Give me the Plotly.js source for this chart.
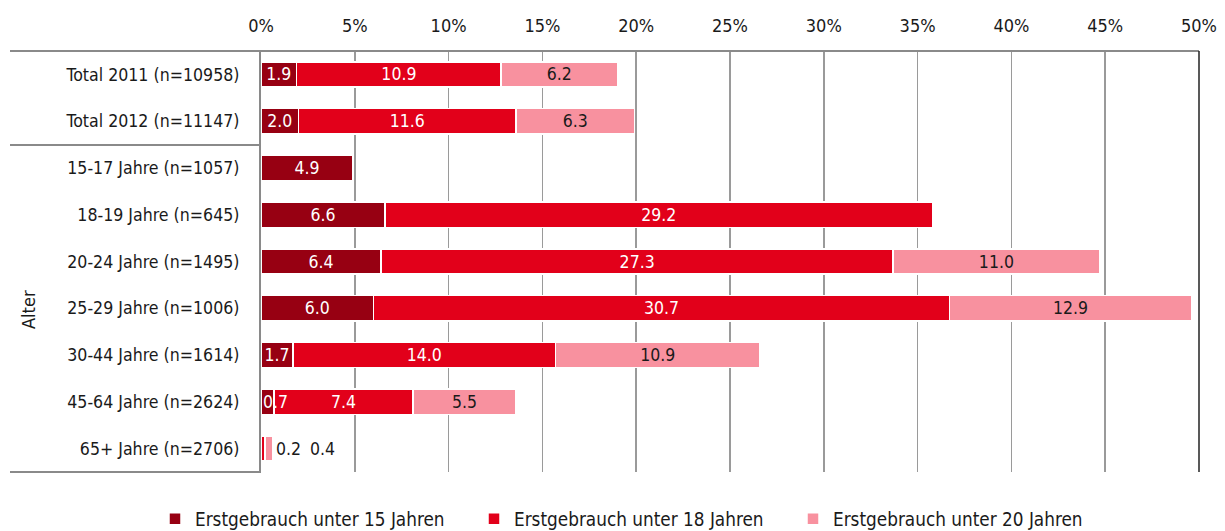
<!DOCTYPE html>
<html>
<head>
<meta charset="utf-8">
<script src="https://cdn.plot.ly/plotly-3.0.1.min.js"></script>
<style>html,body{margin:0;padding:0;background:#fff;}#chart{width:1225px;height:531px;}</style>
</head>
<body>
<div id="chart"></div>
<script>
const categories = ["Total 2011 (n=10958)", "Total 2012 (n=11147)", "15-17 Jahre (n=1057)", "18-19 Jahre (n=645)", "20-24 Jahre (n=1495)", "25-29 Jahre (n=1006)", "30-44 Jahre (n=1614)", "45-64 Jahre (n=2624)", "65+ Jahre (n=2706)"];
const seriesNames = ["Erstgebrauch unter 15 Jahren", "Erstgebrauch unter 18 Jahren", "Erstgebrauch unter 20 Jahren"];
const under15 = [1.9, 2.0, 4.9, 6.6, 6.4, 6.0, 1.7, 0.7, 0.0];
const under18 = [10.9, 11.6, 0, 29.2, 27.3, 30.7, 14.0, 7.4, 0.2];
const under20 = [6.2, 6.3, 0, 0, 11.0, 12.9, 10.9, 5.5, 0.4];
const xTicks = [0, 5, 10, 15, 20, 25, 30, 35, 40, 45, 50];
const groupLabel = "Alter";

const colors = ["#970012", "#E2001A", "#F8919F"];
const textColors = ["#ffffff", "#ffffff", "#1a1a1a"];
const FONT = '"Liberation Sans Narrow", "Arial Narrow", "DejaVu Sans Condensed", sans-serif';
const series = [under15, under18, under20];
const outsideRow = categories.length - 1; // last row labels drawn outside
const SMALL = 1.0; // segments narrower than this get an overlay label

const traces = series.map((vals, i) => ({
  type: 'bar',
  orientation: 'h',
  name: seriesNames[i],
  y: categories,
  x: vals,
  text: vals.map((v, j) => (v >= SMALL && j !== outsideRow) ? v.toFixed(1) : ''),
  textposition: 'inside',
  insidetextanchor: 'middle',
  constraintext: 'none',
  textangle: 0,
  textfont: {family: FONT, size: 17.5, color: textColors[i]},
  marker: {color: colors[i], line: {color: '#ffffff', width: 1.5}},
  width: 0.54,
  hoverinfo: 'skip'
}));

const L = 261, R = 1199, T = 51, B = 472;
const pw = R - L, ph = B - T;
const px = v => (v - L) / pw;
const py = v => 1 - (v - T) / ph;

const annotations = [];
// small in-bar labels that overflow their segment
categories.forEach((c, j) => {
  if (j === outsideRow) return;
  let start = 0;
  series.forEach((vals, i) => {
    const v = vals[j];
    if (v > 0 && v < SMALL) {
      annotations.push({
        x: start, y: c, xref: 'x', yref: 'y', text: v.toFixed(1),
        showarrow: false, xanchor: 'left', xshift: 0,
        font: {family: FONT, size: 17.5, color: textColors[i]}
      });
    }
    start += v;
  });
});
// outside labels for the last row
let cum = under15[outsideRow] + under18[outsideRow] + under20[outsideRow];
[under18[outsideRow], under20[outsideRow]].forEach((v, k) => {
  annotations.push({
    x: cum, y: categories[outsideRow], xref: 'x', yref: 'y',
    text: v.toFixed(1), showarrow: false, xanchor: 'left',
    xshift: 2 + k * 34,
    font: {family: FONT, size: 17.5, color: '#1a1a1a'}
  });
});
annotations.push({
  x: px(28), y: py(310), xref: 'paper', yref: 'paper', text: groupLabel,
  textangle: -90, showarrow: false, xanchor: 'center', yanchor: 'middle',
  font: {family: FONT, size: 18, color: '#1a1a1a'}
});

const shapes = [
  {type: 'line', xref: 'paper', yref: 'paper', x0: px(10), x1: 1, y0: 1, y1: 1, line: {color: '#8a8a8a', width: 2}},
  {type: 'line', xref: 'paper', yref: 'paper', x0: px(10), x1: 0, y0: py(145), y1: py(145), line: {color: '#8a8a8a', width: 2}},
  {type: 'line', xref: 'paper', yref: 'paper', x0: px(10), x1: 0, y0: 0, y1: 0, line: {color: '#8a8a8a', width: 2}},
  {type: 'line', xref: 'paper', yref: 'paper', x0: 1, x1: 1, y0: 0, y1: 1, line: {color: '#222222', width: 1.5}}
];

const layout = {
  width: 1225, height: 531,
  margin: {l: L, r: 1225 - R, t: T, b: 531 - B, autoexpand: false},
  barmode: 'stack',
  bargap: 0.46,
  paper_bgcolor: '#ffffff', plot_bgcolor: '#ffffff',
  font: {family: FONT, size: 17.5, color: '#1a1a1a'},
  xaxis: {
    side: 'top', range: [0, 50], tickvals: xTicks,
    ticktext: xTicks.map(v => v + '%'),
    showgrid: true, gridcolor: '#9a9a9a', gridwidth: 1.5,
    zeroline: false, showline: false, ticks: '',
    ticklabelstandoff: 14, automargin: false,
    tickfont: {family: FONT, size: 18, color: '#1a1a1a'},
    fixedrange: true
  },
  yaxis: {
    type: 'category', autorange: 'reversed',
    showgrid: false, zeroline: false,
    showline: true, linecolor: '#8a8a8a', linewidth: 2,
    ticks: '', ticklabelstandoff: 16, automargin: false,
    tickfont: {family: FONT, size: 17.6, color: '#1a1a1a'},
    fixedrange: true
  },
  showlegend: true,
  legend: {
    orientation: 'h', xref: 'paper', yref: 'paper',
    x: px(155), xanchor: 'left', y: py(519), yanchor: 'middle',
    entrywidth: 274, entrywidthmode: 'pixels',
    font: {family: FONT, size: 18.8, color: '#1a1a1a'},
    itemclick: false, itemdoubleclick: false, traceorder: 'normal'
  },
  annotations: annotations,
  shapes: shapes
};

Plotly.newPlot('chart', traces, layout, {displayModeBar: false, staticPlot: true});
</script>
</body>
</html>
